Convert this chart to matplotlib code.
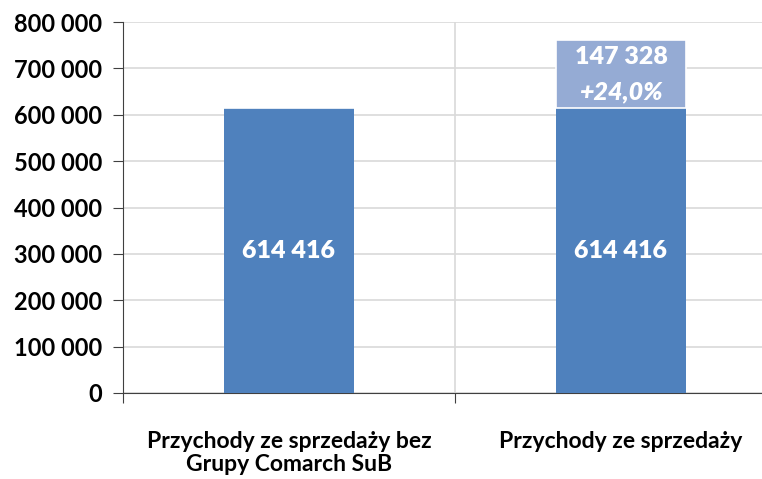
import matplotlib.pyplot as plt
from matplotlib.ticker import FuncFormatter

# === DATA ===
categories = ['Przychody ze sprzedaży bez\nGrupy Comarch SuB', 'Przychody ze sprzedaży']
base_values = [614416, 614416]
extra_values = [0, 147328]
extra_labels = ['', '147 328\n+24,0%']

dark_blue = '#4F81BD'
light_blue = '#95ABD4'


def fmt_thousands(v, pos=None):
    return f'{int(v):,}'.replace(',', ' ')


plt.rcParams['font.family'] = ['Lato', 'DejaVu Sans']

fig = plt.figure(figsize=(7.62, 4.79), dpi=100)
ax = fig.add_axes([123 / 762, 1 - 393 / 479, 664 / 762, 371 / 479])

x = list(range(len(categories)))
ax.bar(x, base_values, width=0.39, color=dark_blue, zorder=3)
ax.bar(x, extra_values, width=0.39, bottom=base_values, color=light_blue,
       edgecolor='white', linewidth=1.2, zorder=3)

# value labels
for i, v in enumerate(base_values):
    ax.text(i, v / 2, fmt_thousands(v), ha='center', va='center',
            color='white', fontsize=18, fontweight='heavy', zorder=4)
for i, (v, lab) in enumerate(zip(extra_values, extra_labels)):
    if v:
        top, pct = lab.split('\n')
        mid = base_values[i] + v / 2
        ax.text(i, mid + 36000, top, ha='center', va='center',
                color='white', fontsize=18, fontweight='heavy', zorder=4)
        ax.text(i, mid - 39000, pct, ha='center', va='center',
                color='white', fontsize=18, fontweight='heavy', style='italic', zorder=4)

ax.set_ylim(0, 800000)
ax.set_xlim(-0.5, 1.5)
ax.set_yticks(range(0, 800001, 100000))
ax.yaxis.set_major_formatter(FuncFormatter(fmt_thousands))
ax.tick_params(axis='y', labelsize=17, length=7, color='#404040', pad=8)
for t in ax.get_yticklabels():
    t.set_fontweight('bold')

# category boundaries as major ticks, names at minor ticks
ax.set_xticks([-0.5, 0.5, 1.5])
ax.set_xticklabels([])
ax.set_xticks(x, minor=True)
ax.set_xticklabels(categories, minor=True, fontsize=16.5, fontweight='bold',
                   linespacing=1.15)
ax.tick_params(axis='x', which='major', length=7, color='#404040')
ax.tick_params(axis='x', which='minor', length=0, pad=27)

ax.grid(True, axis='y', color='#D9D9D9', linewidth=1.2, zorder=0)
ax.axvline(0.5, color='#D9D9D9', linewidth=1.2, zorder=0)

for s in ['top', 'right']:
    ax.spines[s].set_visible(False)
ax.spines['left'].set_color('#404040')
ax.spines['bottom'].set_color('#404040')

fig.savefig('out.png', dpi=100)
